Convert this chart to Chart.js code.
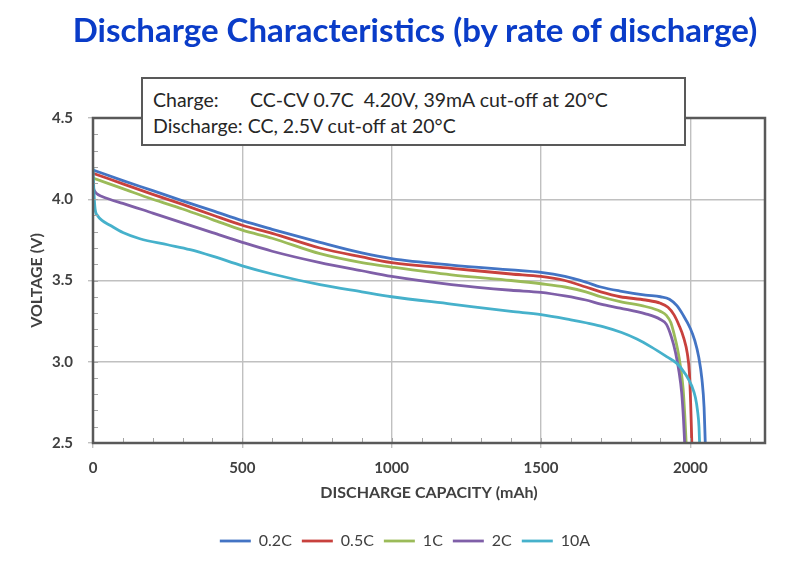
<!DOCTYPE html>
<html>
<head>
<meta charset="utf-8">
<script src="https://cdn.jsdelivr.net/npm/chart.js@4.4.1/dist/chart.umd.min.js"></script>
<style>
  html, body { margin: 0; padding: 0; background: #ffffff; }
  #wrap { position: relative; width: 795px; height: 567px; }
  #title {
    position: absolute; left: 0; top: 9px; width: 830px; text-align: center;
    font-family: Lato, "Open Sans", sans-serif; font-weight: bold; font-size: 33px;
    line-height: 40px; color: #0A3CC8; white-space: nowrap;
  }
  #note {
    position: absolute; left: 141px; top: 77px; width: 545px; height: 69px;
    box-sizing: border-box; border: 2px solid #595959; background: #ffffff;
    font-family: Lato, "Open Sans", sans-serif; font-size: 19.5px; color: #262626;
    padding: 8px 0 0 10px; line-height: 26px; white-space: nowrap;
  }
  #note .lbl { display: inline-block; width: 97px; }
</style>
</head>
<body>
<div id="wrap">
  <canvas id="c" width="795" height="567"></canvas>
  <div id="title">Discharge Characteristics (by rate of discharge)</div>
  <div id="note">
    <div><span class="lbl">Charge:</span>CC-CV 0.7C&nbsp; 4.20V, 39mA cut-off at 20°C</div>
    <div>Discharge: CC, 2.5V cut-off at 20°C</div>
  </div>
</div>
<script>
// ---------------- data ----------------
const seriesLabels = ['0.2C', '0.5C', '1C', '2C', '10A'];

const capacity02C = [0, 100, 200, 300, 400, 500, 600, 760, 900, 1000, 1200, 1400, 1500, 1580, 1650, 1700, 1765, 1850, 1900, 1930, 1955, 1975, 2000, 2015, 2028, 2039, 2046, 2050];
const voltage02C  = [4.18, 4.115, 4.053, 3.99, 3.93, 3.868, 3.815, 3.735, 3.67, 3.635, 3.595, 3.565, 3.55, 3.525, 3.49, 3.46, 3.435, 3.41, 3.40, 3.385, 3.345, 3.29, 3.205, 3.13, 3.03, 2.89, 2.72, 2.50];

const capacity05C = [0, 100, 200, 300, 400, 500, 600, 760, 900, 1000, 1200, 1400, 1500, 1580, 1650, 1700, 1765, 1850, 1900, 1925, 1945, 1962, 1978, 1990, 1997, 2001, 2005];
const voltage05C  = [4.16, 4.095, 4.03, 3.968, 3.903, 3.84, 3.79, 3.70, 3.645, 3.61, 3.575, 3.54, 3.525, 3.50, 3.46, 3.43, 3.40, 3.38, 3.36, 3.335, 3.29, 3.225, 3.146, 3.05, 2.93, 2.75, 2.50];

const capacity1C = [0, 100, 200, 300, 400, 500, 600, 760, 900, 1000, 1200, 1400, 1500, 1580, 1650, 1700, 1765, 1850, 1900, 1920, 1935, 1947, 1957, 1967, 1976, 1982, 1986];
const voltage1C  = [4.13, 4.065, 4.00, 3.94, 3.875, 3.81, 3.76, 3.665, 3.61, 3.583, 3.535, 3.50, 3.48, 3.46, 3.43, 3.40, 3.37, 3.34, 3.31, 3.285, 3.24, 3.16, 3.08, 2.97, 2.83, 2.65, 2.50];

const capacity2C = [0, 4, 12, 30, 60, 100, 200, 300, 400, 500, 600, 760, 900, 1000, 1200, 1400, 1500, 1580, 1650, 1700, 1765, 1850, 1900, 1920, 1937, 1950, 1962, 1971, 1977, 1981];
const voltage2C  = [4.08, 4.055, 4.035, 4.017, 3.997, 3.975, 3.915, 3.855, 3.795, 3.735, 3.68, 3.61, 3.56, 3.525, 3.475, 3.44, 3.427, 3.405, 3.38, 3.355, 3.33, 3.295, 3.26, 3.23, 3.15, 3.06, 2.94, 2.81, 2.65, 2.50];

const capacity10A = [0, 3, 7, 15, 30, 57, 100, 157, 250, 325, 400, 500, 600, 760, 900, 1000, 1200, 1400, 1500, 1600, 1650, 1710, 1770, 1821, 1870, 1922, 1955, 1985, 2005, 2017, 2024, 2029, 2031];
const voltage10A  = [4.19, 4.05, 3.94, 3.90, 3.87, 3.84, 3.795, 3.757, 3.72, 3.69, 3.65, 3.59, 3.54, 3.474, 3.43, 3.40, 3.355, 3.31, 3.29, 3.258, 3.24, 3.215, 3.18, 3.14, 3.09, 3.03, 2.99, 2.92, 2.85, 2.78, 2.70, 2.60, 2.50];

const capacities = [capacity02C, capacity05C, capacity1C, capacity2C, capacity10A];
const voltages   = [voltage02C, voltage05C, voltage1C, voltage2C, voltage10A];
const seriesColors = ['#4374C4', '#C8413D', '#9BBB59', '#7F5FA8', '#46B1CB'];

const xMin = 0, xMax = 2250, xMinorStep = 100;
const yMin = 2.5, yMax = 4.5, yMinorStep = 0.1;
const xTickValues = [0, 500, 1000, 1500, 2000];
const yTickValues = [2.5, 3.0, 3.5, 4.0, 4.5];

const xTitle = 'DISCHARGE CAPACITY (mAh)';
const yTitle = 'VOLTAGE (V)';

// ---------------- chart ----------------
const FONT = 'Lato, "Open Sans", sans-serif';

const datasets = seriesLabels.map((label, i) => ({
  label,
  data: capacities[i].map((x, j) => ({ x, y: voltages[i][j] })),
  borderColor: seriesColors[i],
  backgroundColor: seriesColors[i],
  borderWidth: 2.8,
  pointRadius: 0,
  pointHoverRadius: 0,
  fill: false,
  cubicInterpolationMode: 'monotone',
  order: seriesLabels.length - i
}));

const framePlugin = {
  id: 'frame',
  afterDatasetsDraw(chart) {
    const { ctx, chartArea: a, scales } = chart;
    const xs = scales.x, ys = scales.y;
    ctx.save();
    ctx.strokeStyle = '#a6a6a6';
    ctx.lineWidth = 1;
    ctx.beginPath();
    const nY = Math.round((yMax - yMin) / yMinorStep);
    for (let k = 1; k < nY; k++) {
      const py = Math.round(ys.getPixelForValue(yMin + k * yMinorStep)) + 0.5;
      ctx.moveTo(a.left, py); ctx.lineTo(a.left + 5, py);
    }
    const nX = Math.round((xMax - xMin) / xMinorStep);
    for (let k = 1; k < nX; k++) {
      const px = Math.round(xs.getPixelForValue(xMin + k * xMinorStep)) + 0.5;
      ctx.moveTo(px, a.bottom); ctx.lineTo(px, a.bottom - 5);
    }
    ctx.stroke();
    ctx.strokeStyle = '#595959';
    ctx.lineWidth = 2.5;
    ctx.strokeRect(a.left, a.top, a.right - a.left, a.bottom - a.top);
    ctx.restore();
  }
};

new Chart(document.getElementById('c'), {
  type: 'line',
  data: { datasets },
  plugins: [framePlugin],
  options: {
    responsive: false,
    devicePixelRatio: 1,
    animation: false,
    events: [],
    layout: { padding: { left: 45, right: 30, top: 118, bottom: 8 } },
    plugins: {
      title: { display: false },
      legend: {
        display: true,
        position: 'bottom',
        labels: {
          usePointStyle: true,
          pointStyle: 'line',
          pointStyleWidth: 31,
          boxHeight: 16,
          color: '#404040',
          font: { family: FONT, size: 16 },
          padding: 10,
          sort: (a, b) => a.datasetIndex - b.datasetIndex
        }
      },
      tooltip: { enabled: false }
    },
    scales: {
      x: {
        type: 'linear',
        min: xMin, max: xMax,
        afterBuildTicks: (s) => { s.ticks = xTickValues.map(value => ({ value })); },
        afterFit: (s) => { s.height = 80; },
        ticks: {
          autoSkip: false,
          color: '#404040',
          font: { family: FONT, size: 15, weight: 'bold' },
          padding: 11,
          maxRotation: 0,
          callback: (v) => String(v)
        },
        grid: { color: '#c0c0c0', lineWidth: 1.4, drawTicks: true, tickLength: 5 },
        border: { display: false },
        title: {
          display: true, text: xTitle, color: '#404040',
          font: { family: FONT, size: 16, weight: 'bold' },
          padding: { top: 0, bottom: 21 }
        }
      },
      y: {
        type: 'linear',
        min: yMin, max: yMax,
        afterBuildTicks: (s) => { s.ticks = yTickValues.map(value => ({ value })); },
        afterFit: (s) => { s.width = 48; },
        ticks: {
          autoSkip: false,
          color: '#404040',
          font: { family: FONT, size: 15, weight: 'bold' },
          padding: 15,
          callback: (v) => Number(v).toFixed(1)
        },
        grid: { color: '#c0c0c0', lineWidth: 1.4, drawTicks: true, tickLength: 5 },
        border: { display: false },
        title: {
          display: true, text: yTitle, color: '#404040',
          font: { family: FONT, size: 16, weight: 'bold' },
          padding: { top: -17.6, bottom: 0 }
        }
      }
    }
  }
});
</script>
</body>
</html>
